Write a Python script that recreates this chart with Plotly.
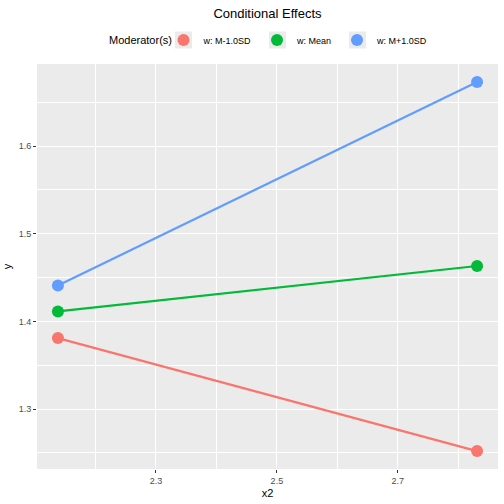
import plotly.graph_objects as go

x_vals = [2.138, 2.831]
series_names = ["w: M-1.0SD", "w: Mean", "w: M+1.0SD"]
series_y = [
    [1.381, 1.2521],
    [1.4114, 1.4632],
    [1.441, 1.673],
]
colors = ["#F8766D", "#00BA38", "#619CFF"]
x_ticks = [2.3, 2.5, 2.7]
y_ticks = [1.3, 1.4, 1.5, 1.6]

fig = go.Figure()
for name, ys, c in zip(series_names, series_y, colors):
    fig.add_trace(go.Scatter(
        x=x_vals, y=ys, name=name, mode="lines", showlegend=False,
        line=dict(color=c, width=2.2), hoverinfo="skip",
    ))
for name, ys, c in zip(series_names, series_y, colors):
    fig.add_trace(go.Scatter(
        x=x_vals, y=ys, name=name, mode="markers",
        marker=dict(color=c, size=12),
    ))

PL, PT, PW, PH = 37, 64, 461, 405
L = 163.5
legend_y = 1 + (PT - 40) / PH

# grey key backgrounds like ggplot legend keys
key_centers = [L + 20, L + 114, L + 194]
shapes = []
for cx in key_centers:
    shapes.append(dict(type="rect", xref="paper", yref="paper",
                       x0=(cx - 8.5 - PL) / PW, x1=(cx + 8.5 - PL) / PW,
                       y0=1 + (PT - 48.5) / PH, y1=1 + (PT - 31.5) / PH,
                       fillcolor="#EBEBEB", line=dict(width=0), layer="above"))

font_family = "Liberation Sans, Arial, sans-serif"
fig.update_layout(
    width=504, height=504,
    margin=dict(l=PL, r=6, t=PT, b=35),
    paper_bgcolor="white",
    plot_bgcolor="#EBEBEB",
    font=dict(family=font_family, color="#000000"),
    title=dict(text="Conditional Effects", x=0.5, xref="paper", xanchor="center",
               y=1 - 13 / 504, yanchor="middle", yref="container",
               font=dict(size=13, color="black")),
    showlegend=True,
    legend=dict(orientation="h", x=(L - PL) / PW, xanchor="left", y=legend_y, yanchor="middle",
                font=dict(size=9, color="black"), itemwidth=30,
                tracegroupgap=0, bgcolor="rgba(0,0,0,0)"),
    annotations=[dict(text="Moderator(s)", xref="paper", yref="paper",
                      x=(L + 10 - PL) / PW, xanchor="right", y=legend_y, yanchor="middle",
                      showarrow=False, font=dict(size=11, color="black"))],
    shapes=shapes,
    xaxis=dict(
        range=[2.1034, 2.8656], tickvals=x_ticks, ticktext=[str(v) for v in x_ticks],
        showgrid=True, gridcolor="white", gridwidth=1.3, zeroline=False,
        ticks="outside", ticklen=3, tickcolor="#333333", tickwidth=1,
        tickfont=dict(size=9, color="#4D4D4D"),
        title=dict(text="x2", font=dict(size=11, color="black"), standoff=4),
        minor=dict(tickvals=[2.2, 2.4, 2.6, 2.8], showgrid=True, gridcolor="white",
                   gridwidth=0.6, ticks=""),
        showline=False,
    ),
    yaxis=dict(
        range=[1.2317, 1.6936], tickvals=y_ticks, ticktext=[str(v) for v in y_ticks],
        showgrid=True, gridcolor="white", gridwidth=1.3, zeroline=False,
        ticks="outside", ticklen=3, tickcolor="#333333", tickwidth=1,
        tickfont=dict(size=9, color="#4D4D4D"),
        title=dict(text="y", font=dict(size=11, color="black"), standoff=4),
        minor=dict(tickvals=[1.25, 1.35, 1.45, 1.55, 1.65], showgrid=True,
                   gridcolor="white", gridwidth=0.6, ticks=""),
        showline=False,
    ),
)

fig.write_html("out.html")
